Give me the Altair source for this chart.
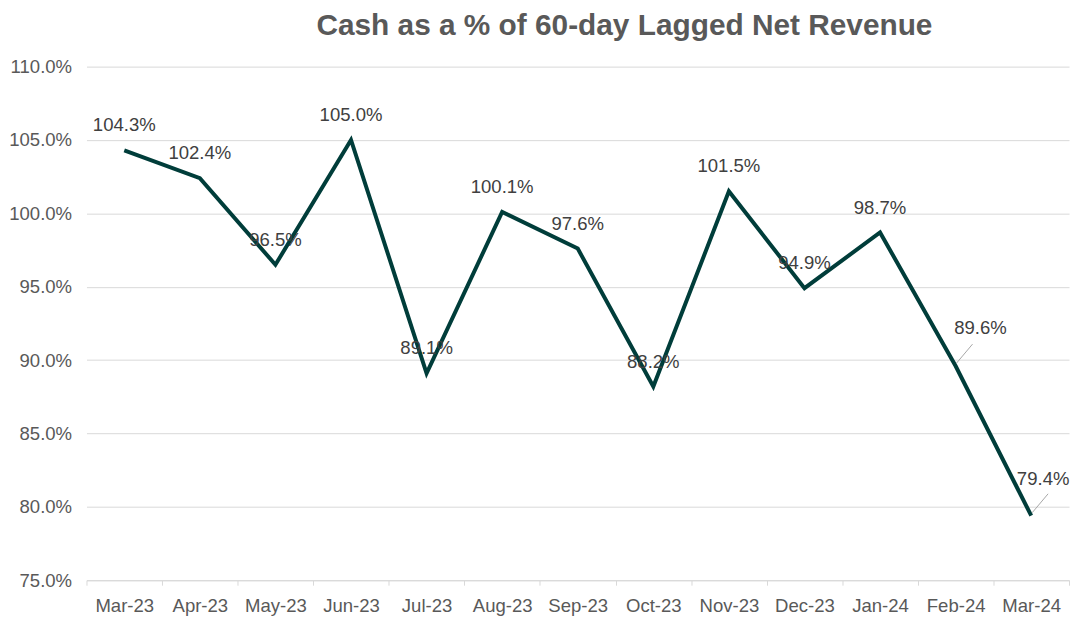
import altair as alt
import pandas as pd

months = ["Mar-23", "Apr-23", "May-23", "Jun-23", "Jul-23", "Aug-23", "Sep-23",
          "Oct-23", "Nov-23", "Dec-23", "Jan-24", "Feb-24", "Mar-24"]
values = [104.3, 102.4, 96.5, 105.0, 89.1, 100.1, 97.6, 88.2, 101.5, 94.9, 98.7, 89.6, 79.4]
leader_months = ["Feb-24", "Mar-24"]

df = pd.DataFrame({"month": months, "value": [v / 100 for v in values]})

FONT = "Liberation Sans"

x = alt.X("month:N", sort=months, title=None,
          scale=alt.Scale(paddingInner=0, paddingOuter=0),
          axis=alt.Axis(labelAngle=0, labelFontSize=18.67, labelColor="#595959", labelFont=FONT,
                        domainColor="#D9D9D9", tickColor="#D9D9D9", tickSize=5,
                        tickBand="extent", labelPadding=11))
y = alt.Y("value:Q", title=None,
          scale=alt.Scale(domain=[0.75, 1.10], nice=False, zero=False),
          axis=alt.Axis(format=".1%", values=[0.75, 0.80, 0.85, 0.90, 0.95, 1.00, 1.05, 1.10],
                        labelFontSize=18.67, labelColor="#595959", labelFont=FONT,
                        domain=False, ticks=False, gridColor="#D9D9D9", labelPadding=15))

base = alt.Chart(df).encode(x=x, y=y)

line = base.mark_line(color="#003D3A", strokeWidth=4)

normal = base.transform_filter(
    ~alt.FieldOneOfPredicate(field="month", oneOf=leader_months)
).mark_text(baseline="alphabetic", dy=-19, fontSize=18.67, font=FONT, color="#404040").encode(
    text=alt.Text("value:Q", format=".1%"))

feb = base.transform_filter(alt.datum.month == "Feb-24").mark_text(
    baseline="alphabetic", dx=25, dy=-32, fontSize=18.67, font=FONT, color="#404040").encode(
    text=alt.Text("value:Q", format=".1%"))

mar = base.transform_filter(alt.datum.month == "Mar-24").mark_text(
    baseline="alphabetic", dx=12, dy=-31, fontSize=18.67, font=FONT, color="#404040").encode(
    text=alt.Text("value:Q", format=".1%"))

leaders = base.transform_filter(
    alt.FieldOneOfPredicate(field="month", oneOf=leader_months)
).mark_rule(color="#A6A6A6", strokeWidth=1, xOffset=1, yOffset=-3, x2Offset=17, y2Offset=-22).encode(
    x2=alt.X2("month:N"), y2=alt.Y2("value:Q"))

chart = alt.layer(line, leaders, normal, feb, mar).properties(
    width=989, height=517,
    padding={"left": 0, "top": 1, "right": 0, "bottom": 0},
    title=alt.TitleParams("Cash as a % of 60-day Lagged Net Revenue", fontSize=30, font=FONT,
                          fontWeight="bold", color="#595959", anchor="middle", dx=47,
                          offset=17),
).configure_view(stroke=None)

chart.save("out.html", embed_options={"renderer": "svg", "actions": False})
